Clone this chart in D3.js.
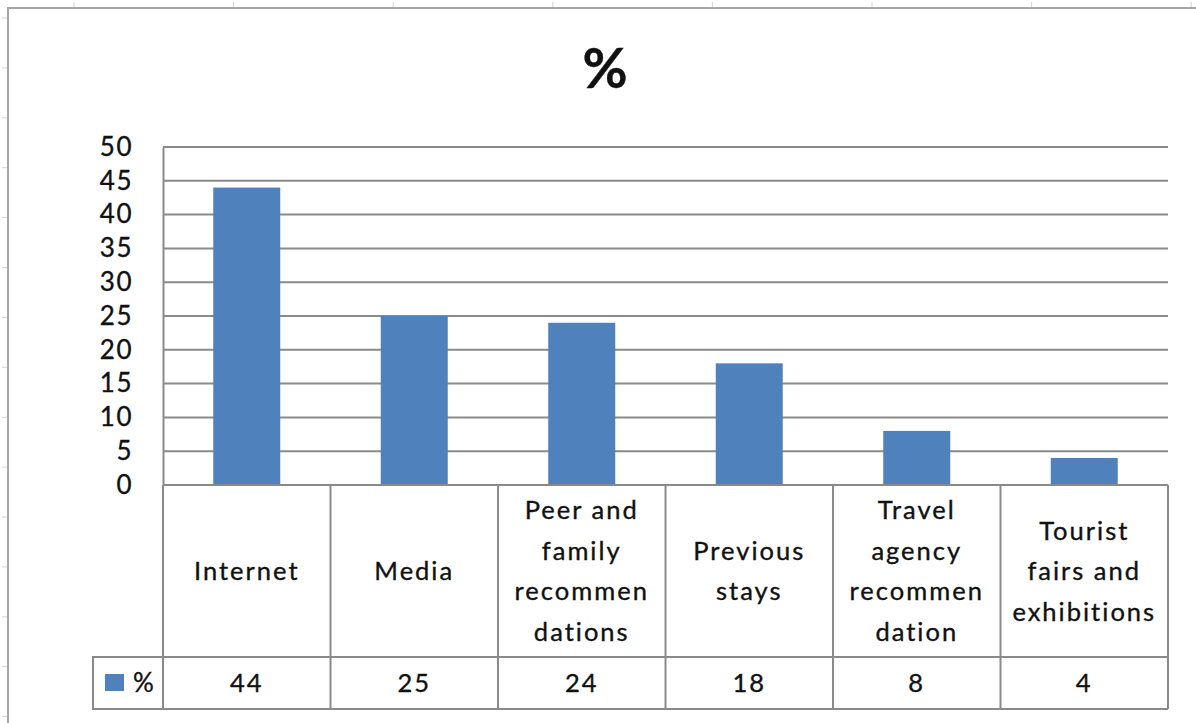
<!DOCTYPE html>
<html>
<head>
<meta charset="utf-8">
<script src="https://cdn.jsdelivr.net/npm/d3@7"></script>
<style>
  html, body { margin: 0; padding: 0; background: #fff; }
  svg text { font-family: Lato, "Open Sans", sans-serif; fill: #111; stroke: #111; stroke-width: 0.35px; }
</style>
</head>
<body>
<svg id="chart"></svg>
<script>
// chart values
const categories = ['Internet', 'Media', 'Peer and family recommendations', 'Previous stays', 'Travel agency recommendation', 'Tourist fairs and exhibitions']
// line breaks as they appear in the data table
const categoryLines = [
  ['Internet'],
  ['Media'],
  ['Peer and', 'family', 'recommen', 'dations'],
  ['Previous', 'stays'],
  ['Travel', 'agency', 'recommen', 'dation'],
  ['Tourist', 'fairs and', 'exhibitions']
]
const values = [44, 25, 24, 18, 8, 4]
const yTicks = [0, 5, 10, 15, 20, 25, 30, 35, 40, 45, 50]
const seriesName = '%'
const title = '%'

const config = {
  width: 1196,
  height: 723,
  plot: { left: 163, right: 1168, top: 147, bottom: 485 },
  table: { rowBottom: 657, bottom: 709, legendLeft: 93 },
  barColor: '#4f81bd',
  lineColor: '#8a8a8a'
}

const { width, height, plot, table, barColor, lineColor } = config

const svg = d3.select('#chart')
  .attr('width', width)
  .attr('height', height)

// outer chart frame (only left and top edges are in view) + sheet ticks
svg.append('path')
  .attr('d', `M8,${height}V8H${width}`)
  .attr('fill', 'none')
  .attr('stroke', '#a6a6a6')
  .attr('stroke-width', 2)
svg.append('g').selectAll('line')
  .data(d3.range(74, width, 159.6))
  .enter().append('line')
  .attr('x1', d => d).attr('x2', d => d)
  .attr('y1', 2).attr('y2', 7)
  .attr('stroke', '#d4d4d4')
svg.append('g').selectAll('line')
  .data(d3.range(18, height, 49.9))
  .enter().append('line')
  .attr('x1', 2).attr('x2', 7)
  .attr('y1', d => d).attr('y2', d => d)
  .attr('stroke', '#d4d4d4')

const x = d3.scaleBand()
  .domain(categories)
  .range([plot.left, plot.right])
  .padding(0)
const y = d3.scaleLinear()
  .domain([0, 50])
  .range([plot.bottom, plot.top])

const g = svg.append('g')

// gridlines
g.append('g')
  .selectAll('line')
  .data(yTicks)
  .enter().append('line')
  .attr('x1', plot.left)
  .attr('x2', plot.right)
  .attr('y1', d => y(d))
  .attr('y2', d => y(d))
  .attr('stroke', lineColor)
  .attr('stroke-width', 2)

// y axis, drawn with d3 then restyled
const yAxis = g.append('g')
  .attr('transform', `translate(${plot.left},0)`)
  .call(d3.axisLeft(y).tickValues(yTicks).tickSize(0).tickPadding(30))
yAxis.select('.domain')
  .attr('stroke', lineColor)
  .attr('stroke-width', 2)
yAxis.selectAll('text')
  .attr('font-size', 26)
  .attr('letter-spacing', 1.5)
  .style('font-family', 'Lato, sans-serif')
  .attr('fill', '#111')

// bars, 40% of the category width (excel gap width 150)
const barW = x.bandwidth() * 0.4
g.append('g')
  .selectAll('rect')
  .data(values)
  .enter().append('rect')
  .attr('x', (d, i) => x(categories[i]) + (x.bandwidth() - barW) / 2)
  .attr('y', d => y(d))
  .attr('width', barW)
  .attr('height', d => y(0) - y(d))
  .attr('fill', barColor)

// data table grid
const tg = svg.append('g')
  .attr('stroke', lineColor)
  .attr('stroke-width', 2)
  .attr('fill', 'none')
const edges = categories.map(c => x(c)).concat([plot.right])
tg.selectAll('line.v')
  .data(edges)
  .enter().append('line')
  .attr('class', 'v')
  .attr('x1', d => d).attr('x2', d => d)
  .attr('y1', plot.bottom).attr('y2', table.bottom)
tg.append('line')
  .attr('x1', plot.left).attr('x2', plot.right)
  .attr('y1', plot.bottom).attr('y2', plot.bottom)
tg.append('path')
  .attr('d', `M${plot.right},${table.rowBottom}H${table.legendLeft}V${table.bottom}H${plot.right}`)

// category labels
const lineH = 40.5
const catMid = (plot.bottom + table.rowBottom) / 2
svg.append('g')
  .selectAll('text')
  .data(categoryLines)
  .enter().append('text')
  .attr('text-anchor', 'middle')
  .attr('font-size', 25.5)
  .attr('letter-spacing', 2)
  .attr('transform', (d, i) => `translate(${x(categories[i]) + x.bandwidth() / 2},${catMid})`)
  .selectAll('tspan')
  .data(d => d.map((t, j) => ({ t, j, n: d.length })))
  .enter().append('tspan')
  .attr('x', 0)
  .attr('y', d => (d.j - (d.n - 1) / 2) * lineH)
  .attr('dy', '0.36em')
  .text(d => d.t)

// value row
const valMid = (table.rowBottom + table.bottom) / 2
svg.append('g')
  .selectAll('text')
  .data(values)
  .enter().append('text')
  .attr('x', (d, i) => x(categories[i]) + x.bandwidth() / 2)
  .attr('y', valMid)
  .attr('dy', '0.36em')
  .attr('text-anchor', 'middle')
  .attr('font-size', 25.5)
  .attr('letter-spacing', 2)
  .text(d => d)

// legend key in the table
svg.append('rect')
  .attr('x', 105).attr('y', 674)
  .attr('width', 19).attr('height', 17)
  .attr('fill', barColor)
svg.append('text')
  .attr('x', 133).attr('y', valMid)
  .attr('dy', '0.36em')
  .attr('font-size', 26)
  .text(seriesName)

// title
svg.append('text')
  .attr('x', 605)
  .attr('y', 68)
  .attr('dy', '0.36em')
  .attr('text-anchor', 'middle')
  .attr('font-size', 55)
  .attr('font-weight', 'bold')
  .text(title)
</script>
</body>
</html>
